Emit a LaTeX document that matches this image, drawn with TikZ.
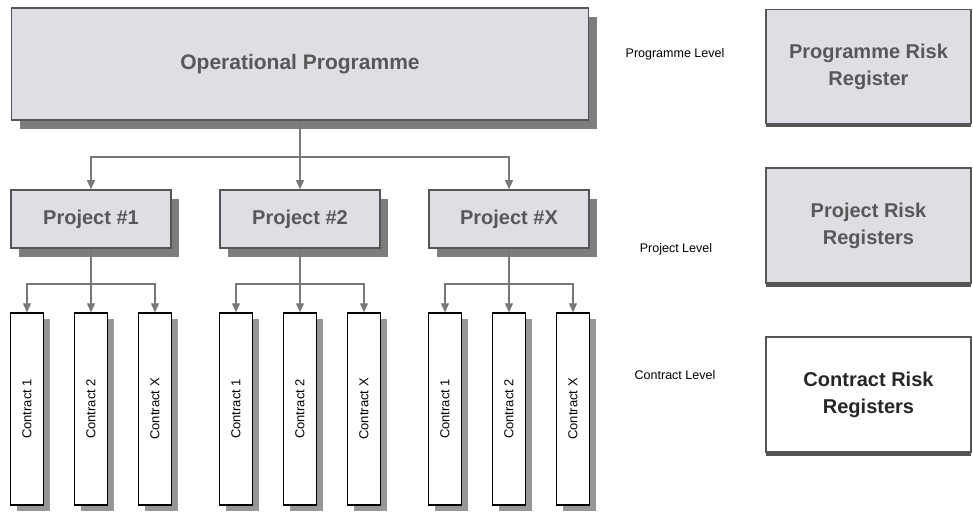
\documentclass[tikz,border=0pt]{standalone}
\usepackage{fontspec}
\setmainfont{Liberation Sans}
\usetikzlibrary{arrows.meta,shadows}

\definecolor{boxfill}{RGB}{221,223,229}
\definecolor{boxline}{RGB}{85,85,85}
\definecolor{schatten}{RGB}{125,125,125}
\definecolor{textgrau}{RGB}{88,88,88}
\definecolor{pfeilgrau}{RGB}{120,120,120}

\tikzset{
	ebene/.style={draw=boxline, line width=1.6pt, fill=boxfill, inner sep=0pt,
		align=center, text=textgrau, font=\fontsize{20}{24}\selectfont\bfseries,
		copy shadow={shadow xshift=8pt, shadow yshift=-9pt, fill=schatten, draw=none}},
	vertrag/.style={draw=black, line width=1.4pt, fill=white, inner sep=0pt,
		minimum width=33pt, minimum height=192pt, font=\fontsize{13}{15}\selectfont,
		copy shadow={shadow xshift=6pt, shadow yshift=-6pt, fill=schatten!80, draw=none}},
	register/.style={draw=boxline, line width=1.6pt, fill=boxfill, inner sep=0pt,
		minimum width=205pt, minimum height=114pt, align=center, text=textgrau,
		font=\fontsize{20}{27}\selectfont\bfseries,
		copy shadow={shadow xshift=0pt, shadow yshift=-4pt, fill=boxline, draw=none}},
	ebenentext/.style={inner sep=0pt, font=\fontsize{12.5}{15}\selectfont},
	pfeil/.style={draw=pfeilgrau, line width=1.2pt, -{Triangle[width=8pt,length=9pt]}}
}

\begin{document}
\begin{tikzpicture}[x=1pt, y=-1pt]
	\useasboundingbox (0,0) rectangle (973,513);

	% Programmebene
	\node[ebene, minimum width=577pt, minimum height=112pt,
		font=\fontsize{21}{25}\selectfont\bfseries] (op) at (300,64)
		{Operational Programme};
	\coordinate (opsplit) at (300,157);

	% Projekte und Vertraege
	\foreach \p/\x/\t in {1/91/{Project \#1}, 2/300/{Project \#2}, X/509/{Project \#X}} {
		\node[ebene, minimum width=160pt, minimum height=58pt] (p\p) at (\x,219) {\t};
		\foreach \k/\dx in {1/-64, 2/0, X/64}
			\node[vertrag] (c\p\k) at (\x+\dx,409) {\rotatebox{90}{Contract \k}};
		\coordinate (s\p) at (\x,284);
		\draw[pfeil] (p\p) -- (c\p 2);
		\draw[pfeil] (s\p) -| (c\p 1);
		\draw[pfeil] (s\p) -| (c\p X);
	}

	% Pfeile vom Programm
	\draw[pfeil] (op) -- (p2);
	\draw[pfeil] (opsplit) -| (p1);
	\draw[pfeil] (opsplit) -| (pX);

	% Ebenen rechts
	\node[ebenentext] (lprog) at (675,54) {Programme Level};
	\node[ebenentext] (lproj) at (676,249) {Project Level};
	\node[ebenentext] (lvert) at (675,375) {Contract Level};

	% Risikoregister
	\node[register] (rprog) at (868.5,66.5) {Programme Risk\\Register};
	\node[register, minimum height=115pt] (rproj) at (868.5,225.5)
		{Project Risk\\Registers};
	\node[register, minimum height=115pt, fill=white, text={black!85}] (rvert)
		at (868.5,394.5) {Contract Risk\\Registers};
\end{tikzpicture}
\end{document}
